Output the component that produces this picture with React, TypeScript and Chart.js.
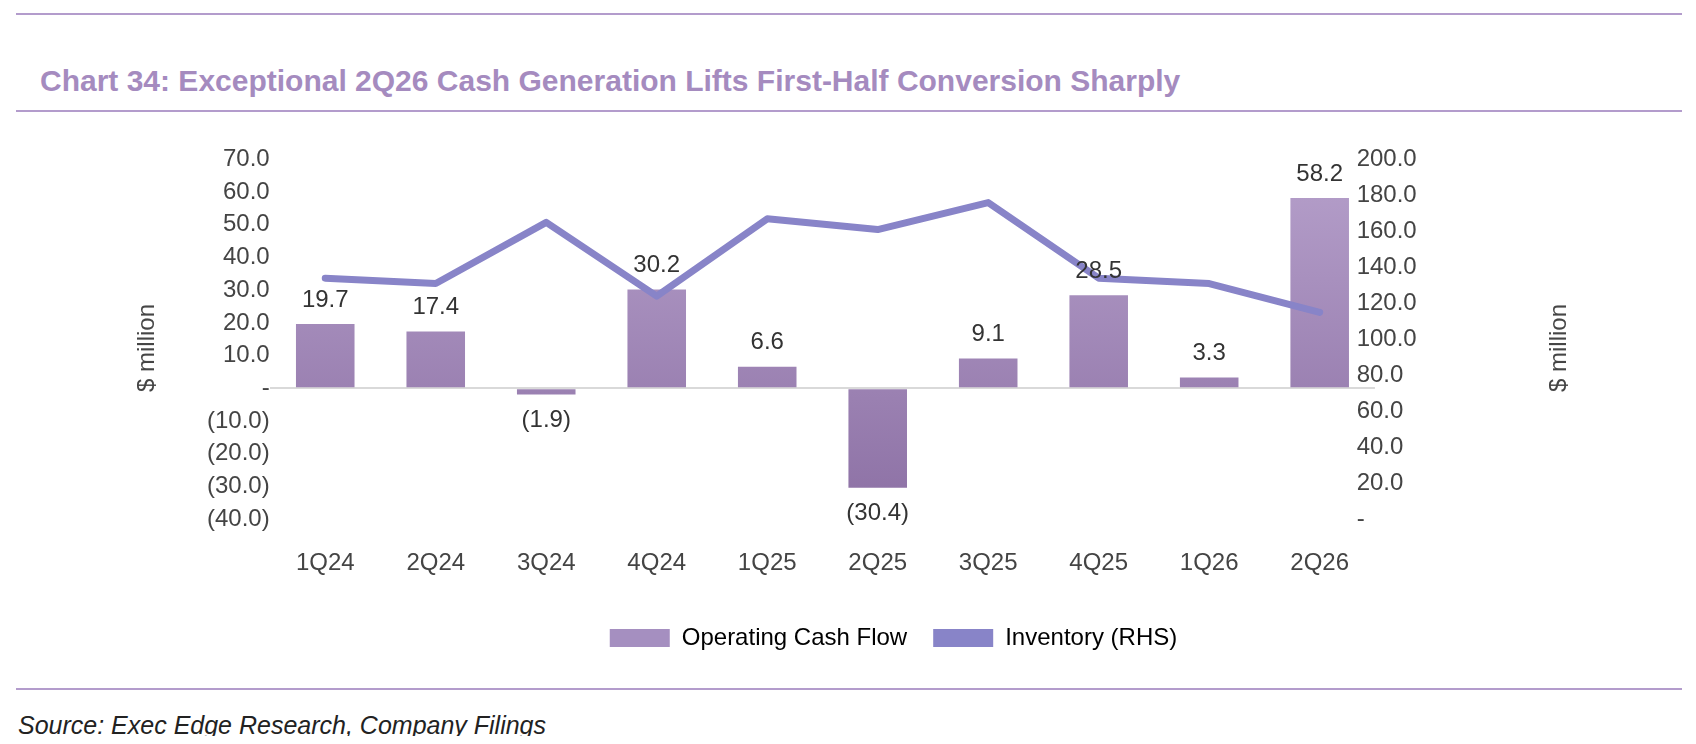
import React, { useEffect, useRef } from "react";
import { Chart, registerables } from "chart.js";
Chart.register(...registerables);

const categories = ["1Q24","2Q24","3Q24","4Q24","1Q25","2Q25","3Q25","4Q25","1Q26","2Q26"];
const operatingCashFlow = [19.7, 17.4, -1.9, 30.2, 6.6, -30.4, 9.1, 28.5, 3.3, 58.2];
const inventory = [134, 131, 165, 124, 167, 161, 176, 134, 131, 115];

const FONT = "'Liberation Sans', Arial, sans-serif";
const fmt = (v: number) => (v === 0 ? "-" : v < 0 ? `(${Math.abs(v).toFixed(1)})` : v.toFixed(1));

const labelPlugin = {
  id: "barLabels",
  afterDatasetsDraw(chart: any) {
    const ctx = chart.ctx;
    const meta = chart.getDatasetMeta(0);
    ctx.save();
    ctx.font = `24px ${FONT}`;
    ctx.fillStyle = "#333";
    ctx.textAlign = "center";
    meta.data.forEach((el: any, i: number) => {
      const v = operatingCashFlow[i];
      if (v >= 0) { ctx.textBaseline = "bottom"; ctx.fillText(fmt(v), el.x, el.y - 12); }
      else { ctx.textBaseline = "top"; ctx.fillText(fmt(v), el.x, el.y + 14); }
    });
    ctx.restore();
  },
};

export default function App() {
  const ref = useRef<HTMLCanvasElement>(null);
  useEffect(() => {
    const c = ref.current!;
    const chart = new Chart(c, {
      type: "bar",
      data: {
        labels: categories,
        datasets: [
          {
            type: "bar",
            label: "Operating Cash Flow",
            data: operatingCashFlow,
            yAxisID: "y",
            order: 2,
            barPercentage: 0.53,
            categoryPercentage: 1,
            backgroundColor: (ctx: any) => {
              const { chart } = ctx;
              const a = chart.chartArea;
              if (!a) return "#a58fc0";
              const g = chart.ctx.createLinearGradient(0, a.top, 0, a.bottom);
              g.addColorStop(0, "#b6a0cb");
              g.addColorStop(1, "#8c70a4");
              return g;
            },
          },
          {
            type: "line",
            label: "Inventory (RHS)",
            data: inventory,
            yAxisID: "y1",
            order: 1,
            borderColor: "#8884c8",
            backgroundColor: "#8884c8",
            borderWidth: 7,
            pointRadius: 0,
            tension: 0,
            borderCapStyle: "round",
            borderJoinStyle: "round",
          },
        ],
      },
      options: {
        animation: false,
        responsive: false,
        layout: { padding: { left: 262, right: 171, top: 40, bottom: 8 } },
        plugins: {
          tooltip: { enabled: false },
          legend: {
            position: "bottom",
            labels: {
              font: { family: FONT, size: 24 },
              color: "#444",
              boxWidth: 60,
              boxHeight: 18,
              padding: 26,
              generateLabels: () => [
                { text: "Operating Cash Flow", fillStyle: "#a58fc0", strokeStyle: "#a58fc0", lineWidth: 0, datasetIndex: 0 },
                { text: "Inventory (RHS)", fillStyle: "#8884c8", strokeStyle: "#8884c8", lineWidth: 0, datasetIndex: 1 },
              ],
            },
          },
        },
        scales: {
          x: {
            grid: { display: false },
            border: { display: false },
            ticks: { font: { family: FONT, size: 24 }, color: "#444", padding: 22 },
          },
          y: {
            min: -40, max: 70,
            ticks: { stepSize: 10, autoSkip: false, font: { family: FONT, size: 24 }, color: "#444", callback: (v: any) => fmt(Number(v)), padding: -63 },
            grid: { drawTicks: false, color: (c: any) => (c.tick.value === 0 ? "#d9d9d9" : "transparent"), lineWidth: 2 },
            border: { display: false },
          },
          y1: {
            position: "right",
            min: 0, max: 200,
            ticks: { stepSize: 20, autoSkip: false, font: { family: FONT, size: 24 }, color: "#444", callback: (v: any) => fmt(Number(v)), padding: 37 },
            grid: { display: false },
            border: { display: false },
          },
        },
      },
      plugins: [labelPlugin],
    } as any);
    return () => chart.destroy();
  }, []);
  const axTitle: React.CSSProperties = { position: "absolute", fontSize: 24, color: "#444", whiteSpace: "nowrap", transform: "translate(-50%,-50%) rotate(-90deg)" };
  return (
    <div style={{ position: "relative", width: 1680, height: 728, fontFamily: FONT }}>
      <div style={{ position: "absolute", left: 8, top: 5, width: 1666, borderTop: "2px solid #b39ccc" }} />
      <div style={{ position: "absolute", left: 32, top: 56, fontSize: 30, fontWeight: "bold", color: "#a58bbf" }}>
        Chart 34: Exceptional 2Q26 Cash Generation Lifts First-Half Conversion Sharply
      </div>
      <div style={{ position: "absolute", left: 8, top: 102, width: 1666, borderTop: "2px solid #b39ccc" }} />
      <canvas ref={ref} width={1680} height={560} style={{ position: "absolute", left: 0, top: 100 }} />
      <div style={{ ...axTitle, left: 138, top: 340 }}>$ million</div>
      <div style={{ ...axTitle, left: 1550, top: 340 }}>$ million</div>
      <div style={{ position: "absolute", left: 8, top: 680, width: 1666, borderTop: "2px solid #b39ccc" }} />
      <div style={{ position: "absolute", left: 10, top: 703, fontSize: 25, fontStyle: "italic", color: "#222" }}>
        Source: Exec Edge Research, Company Filings
      </div>
    </div>
  );
}
